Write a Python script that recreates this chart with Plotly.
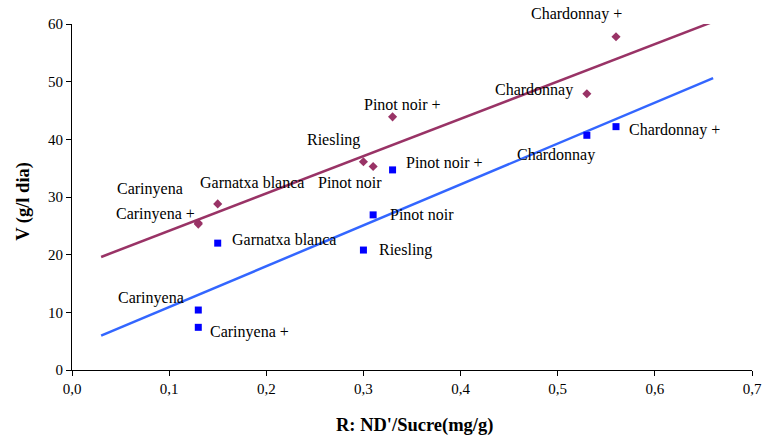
import plotly.graph_objects as go

# ---- data ----
varieties = ["Carinyena", "Carinyena +", "Garnatxa blanca", "Riesling",
             "Pinot noir", "Pinot noir +", "Chardonnay", "Chardonnay +"]
r_series1 = [0.13, 0.13, 0.15, 0.30, 0.31, 0.33, 0.53, 0.56]
v_series1 = [25.5, 25.3, 28.8, 36.1, 35.3, 43.9, 47.9, 57.8]
r_series2 = [0.13, 0.13, 0.15, 0.30, 0.31, 0.33, 0.53, 0.56]
v_series2 = [10.4, 7.4, 22.0, 20.8, 26.9, 34.7, 40.7, 42.2]
trend_x = [0.03, 0.66]
trend1_y = [19.6, 60.4]
trend2_y = [5.95, 50.6]
x_ticks = [0.0, 0.1, 0.2, 0.3, 0.4, 0.5, 0.6, 0.7]
y_ticks = [0, 10, 20, 30, 40, 50, 60]
x_title = "R: ND'/Sucre(mg/g)"
y_title = "V (g/l dia)"

# ---- label placement (pixel offsets from the point) ----
lab1 = [("right", -13, 34), ("right", -1.5, 10.6), ("left", -20, 21.4), ("right", -1.6, 21.7),
        ("right", 10.7, -16), ("left", -30.6, 12.7), ("right", -11.6, 3.3), ("right", 8.3, 22.7)]
lab2 = [("right", -12.3, 12.3), ("left", 9.4, -4.4), ("left", 12, 4), ("left", 13.4, 0),
        ("left", 14.7, 0), ("left", 11, 7.7), ("right", 9.7, -20), ("left", 10.6, -3.3)]

RED = "#993366"
BLUE_M = "#0000FF"
BLUE_L = "#3366FF"
FONT = "Liberation Serif"

fig = go.Figure()
fig.add_trace(go.Scatter(x=trend_x, y=trend1_y, mode="lines",
                         line=dict(color=RED, width=2.5), hoverinfo="skip"))
fig.add_trace(go.Scatter(x=trend_x, y=trend2_y, mode="lines",
                         line=dict(color=BLUE_L, width=2.5), hoverinfo="skip"))
fig.add_trace(go.Scatter(x=r_series1, y=v_series1, mode="markers", text=varieties,
                         marker=dict(symbol="diamond", size=7, color=RED, line=dict(width=0))))
fig.add_trace(go.Scatter(x=r_series2, y=v_series2, mode="markers", text=varieties,
                         marker=dict(symbol="square", size=7, color=BLUE_M, line=dict(width=0))))

for xs, ys, labs in ((r_series1, v_series1, lab1), (r_series2, v_series2, lab2)):
    for name, xv, yv, (anc, dx, dy) in zip(varieties, xs, ys, labs):
        fig.add_annotation(x=xv, y=yv, text=name, showarrow=False,
                           xanchor=anc, yanchor="middle", xshift=dx, yshift=dy,
                           font=dict(family=FONT, size=16, color="black"))

# axis titles
fig.add_annotation(xref="paper", yref="paper", x=0.503, y=0, yshift=-55,
                   xanchor="center", yanchor="middle", showarrow=False,
                   text="<b>" + x_title + "</b>",
                   font=dict(family=FONT, size=18.5, color="black"))
fig.add_annotation(xref="paper", yref="paper", x=0, y=0.486, xshift=-48,
                   xanchor="center", yanchor="middle", showarrow=False, textangle=-90,
                   text="<b>" + y_title + "</b>",
                   font=dict(family=FONT, size=18.5, color="black"))

axis_common = dict(showgrid=False, zeroline=False, showline=True, linecolor="black",
                   linewidth=1, ticks="outside", ticklen=5, tickcolor="black",
                   tickfont=dict(family=FONT, size=15, color="black"))

fig.update_layout(
    width=766, height=439,
    margin=dict(l=72, r=14, t=24, b=69),
    paper_bgcolor="white", plot_bgcolor="white",
    showlegend=False,
    separators=", ",
    font=dict(family=FONT, color="black"),
    xaxis=dict(range=[0, 0.7], tickvals=x_ticks, tickformat=".1f",
               automargin=False, **axis_common),
    yaxis=dict(range=[0, 60], tickvals=y_ticks,
               automargin=False, **axis_common),
)

fig.write_html("out.html")
